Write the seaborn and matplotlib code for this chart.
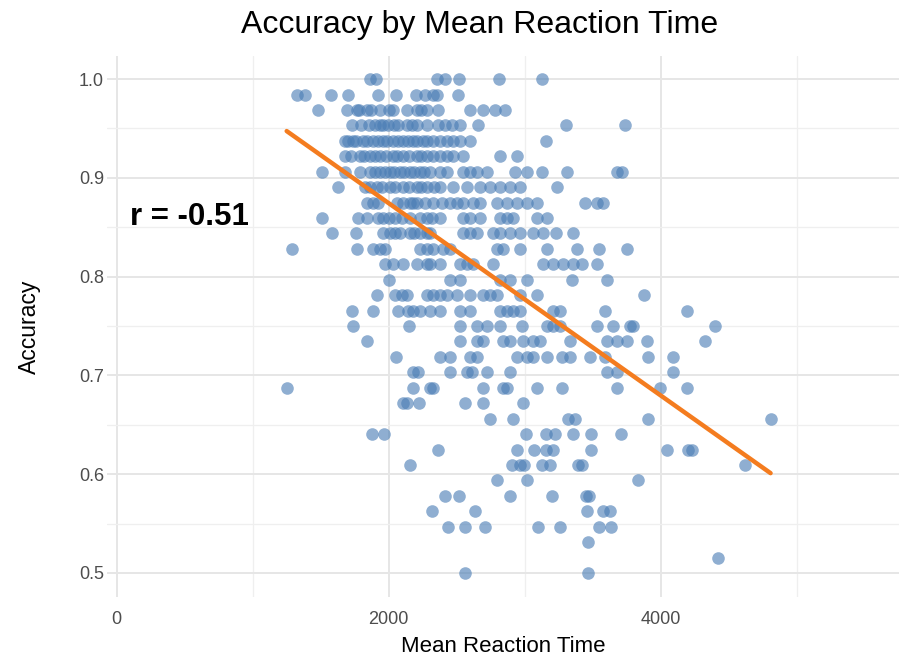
import numpy as np
import pandas as pd
import seaborn as sns
import matplotlib.pyplot as plt

# Mean reaction time (ms) of each participant, grouped by number of correct trials (out of 64)
rt_64 = [1860, 1904, 2353, 2412, 2515, 2809, 3125]
rt_63 = [1324, 1382, 1574, 1699, 1919, 2051, 2199, 2265, 2324, 2353, 2507]
rt_62 = [1478, 1691, 1765, 1780, 1838, 1870, 1934, 2000, 2029, 2132, 2210, 2235, 2279,
         2360, 2596, 2691, 2779, 2853]
rt_61 = [1728, 1800, 1853, 1900, 1934, 1960, 1993, 2040, 2066, 2132, 2170, 2206, 2279,
         2360, 2412, 2463, 2522, 2654, 3301, 3735]
rt_60 = [1676, 1700, 1735, 1760, 1809, 1840, 1882, 1920, 1956, 1990, 2029, 2070, 2103,
         2140, 2176, 2210, 2250, 2279, 2324, 2375, 2426, 2471, 2522, 2596, 3154]
rt_59 = [1676, 1720, 1787, 1820, 1860, 1900, 1934, 1980, 2029, 2060, 2103, 2150, 2206,
         2240, 2279, 2324, 2375, 2426, 2471, 2544, 2816, 2941]
rt_58 = [1507, 1676, 1790, 1860, 1900, 1934, 1970, 2007, 2040, 2081, 2110, 2154, 2190,
         2228, 2260, 2301, 2375, 2426, 2544, 2596, 2647, 2721, 2926, 3015, 3125, 3309,
         3676, 3713]
rt_57 = [1625, 1824, 1860, 1912, 1950, 2007, 2050, 2103, 2150, 2206, 2240, 2279, 2330,
         2375, 2471, 2574, 2669, 2743, 2816, 2890, 2963, 3235]
rt_56 = [1838, 1882, 1920, 2060, 2103, 2154, 2180, 2206, 2265, 2324, 2390, 2449, 2500,
         2544, 2618, 2669, 2794, 2868, 2941, 3015, 3088, 3441, 3529, 3574]
rt_55 = [1507, 1772, 1840, 1919, 1956, 2000, 2044, 2100, 2154, 2228, 2279, 2320, 2375,
         2544, 2596, 2669, 2816, 2868, 2912, 3088, 3162]
rt_54 = [1581, 1757, 1960, 2007, 2050, 2081, 2154, 2190, 2228, 2279, 2301, 2544, 2596,
         2647, 2765, 2816, 2890, 2963, 3059, 3132, 3228, 3353]
rt_53 = [1287, 1765, 1882, 1934, 1971, 2228, 2279, 2324, 2397, 2449, 2794, 2838, 2963,
         3162, 3382, 3544, 3750]
rt_52 = [1971, 2029, 2103, 2206, 2279, 2301, 2375, 2522, 2574, 2618, 2765, 3132, 3206,
         3279, 3353, 3419, 3529]
rt_51 = [2000, 2449, 2522, 2816, 2890, 3015, 3346, 3603]
rt_50 = [1912, 2044, 2096, 2132, 2279, 2324, 2375, 2426, 2500, 2596, 2691, 2743, 2794,
         2963, 3088, 3875]
rt_49 = [1728, 1882, 2066, 2140, 2176, 2228, 2301, 2375, 2522, 2596, 2816, 2868, 2912,
         2963, 3206, 3257, 3588, 4191]
rt_48 = [1735, 2147, 2522, 2647, 2721, 2816, 2978, 3162, 3206, 3257, 3529, 3647, 3772,
         3794, 4397]
rt_47 = [1838, 2522, 2647, 2691, 2838, 2890, 2985, 3059, 3110, 3331, 3603, 3676, 3750,
         3897, 4324]
rt_46 = [2051, 2375, 2449, 2596, 2647, 2941, 3015, 3059, 3162, 3272, 3331, 3478, 3588,
         3904, 4088]
rt_45 = [2176, 2213, 2449, 2574, 2610, 2721, 2890, 3603, 3676, 4088]
rt_44 = [1250, 2176, 2301, 2324, 2691, 2838, 2868, 3088, 3272, 3676, 3993, 4191]
rt_43 = [2103, 2132, 2221, 2559, 2691, 2985]
rt_42 = [2743, 2912, 3316, 3368, 3904, 4809]
rt_41 = [1875, 1963, 3007, 3154, 3221, 3353, 3485, 3706]
rt_40 = [2360, 2941, 3066, 3154, 3206, 3485, 4044, 4199, 4228]
rt_39 = [2154, 2904, 2963, 2993, 3125, 3184, 3390, 3419, 4618]
rt_38 = [2794, 3015, 3831]
rt_37 = [2412, 2515, 2890, 3199, 3449, 3471]
rt_36 = [2316, 2632, 3456, 3574, 3625]
rt_35 = [2434, 2559, 2706, 3096, 3257, 3544, 3632]
rt_34 = [3463]
rt_33 = [4419]
rt_32 = [2559, 3463]

n_trials = 64
x_ticks = [0, 2000, 4000]
y_ticks = [0.5, 0.6, 0.7, 0.8, 0.9, 1.0]

levels = {64: rt_64, 63: rt_63, 62: rt_62, 61: rt_61, 60: rt_60, 59: rt_59, 58: rt_58,
          57: rt_57, 56: rt_56, 55: rt_55, 54: rt_54, 53: rt_53, 52: rt_52, 51: rt_51,
          50: rt_50, 49: rt_49, 48: rt_48, 47: rt_47, 46: rt_46, 45: rt_45, 44: rt_44,
          43: rt_43, 42: rt_42, 41: rt_41, 40: rt_40, 39: rt_39, 38: rt_38, 37: rt_37,
          36: rt_36, 35: rt_35, 34: rt_34, 33: rt_33, 32: rt_32}

rows = [(rt, hits / n_trials) for hits, rts in levels.items() for rt in rts]
df = pd.DataFrame(rows, columns=["mean_rt", "accuracy"])

sns.set_theme(style="white")
plt.rcParams["font.family"] = ["Liberation Sans", "DejaVu Sans"]

fig = plt.figure(figsize=(9.04, 6.63), dpi=100)
ax = fig.add_axes([0.118, 0.10, 0.877, 0.815])

sns.scatterplot(data=df, x="mean_rt", y="accuracy", color="#4A7DB5", alpha=0.62,
                s=82, linewidth=0, ax=ax)
sns.regplot(data=df, x="mean_rt", y="accuracy", scatter=False, ci=None,
            color="#F47C1F", line_kws={"linewidth": 3.2}, ax=ax)

ax.set_xlim(-74, 5757)
ax.set_ylim(0.476, 1.023)
ax.set_xticks(x_ticks)
ax.set_yticks(y_ticks)
ax.set_xticks([1000, 3000, 5000], minor=True)
ax.set_yticks([0.55, 0.65, 0.75, 0.85, 0.95], minor=True)
ax.set_xticklabels([str(v) for v in x_ticks])
ax.set_yticklabels([f"{v:.1f}" for v in y_ticks])
ax.grid(True, which="major", color="#E6E6E6", linewidth=1.4)
ax.grid(True, which="minor", color="#EFEFEF", linewidth=0.9)
ax.set_axisbelow(True)
for sp in ax.spines.values():
    sp.set_visible(False)
ax.tick_params(axis="x", which="both", length=0, labelsize=13, labelcolor="#4D4D4D", pad=10)
ax.tick_params(axis="y", which="both", length=0, labelsize=13, labelcolor="#4D4D4D", pad=2)

ax.text(95, 0.86, "r = -0.51", fontsize=22.5, fontweight="bold", ha="left", va="center",
        color="black")

fig.suptitle("Accuracy by Mean Reaction Time", x=0.531, y=0.985, fontsize=23, color="black")
ax.set_xlabel("Mean Reaction Time", fontsize=16, labelpad=6, color="black")
ax.set_ylabel("Accuracy", fontsize=16.5, labelpad=27, color="black")

fig.savefig("out.png", dpi=100)
